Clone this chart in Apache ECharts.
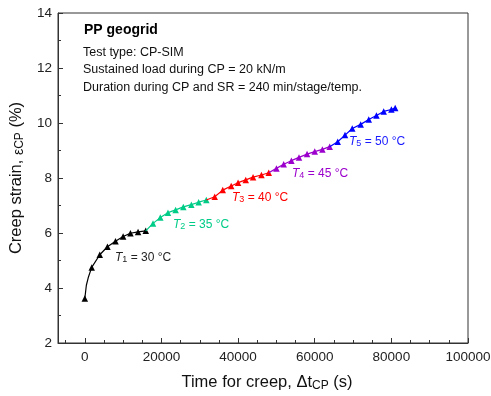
<!DOCTYPE html>
<html>
<head>
<meta charset="utf-8">
<script src="https://cdn.jsdelivr.net/npm/echarts@6/dist/echarts.min.js"></script>
<style>html,body{margin:0;padding:0;background:#fff}#c{width:491px;height:396px}</style>
</head>
<body>
<div id="c"></div>
<script>
// ---- data ----
const t1Time   = [0, 1800, 3900, 5900, 8000, 10000, 11900, 13900, 15900];
const t1Strain = [3.62, 4.75, 5.21, 5.50, 5.70, 5.87, 5.99, 6.04, 6.08];
const t1CurveTime   = [400, 900];      // unmarked points on the initial curve
const t1CurveStrain = [4.10, 4.38];
const t2Time   = [17800, 19700, 21700, 23700, 25700, 27800, 29700, 31700];
const t2Strain = [6.35, 6.56, 6.74, 6.84, 6.95, 7.03, 7.12, 7.20];
const t3Time   = [33900, 36000, 38200, 40000, 42000, 43900, 46100, 48000];
const t3Strain = [7.32, 7.56, 7.71, 7.83, 7.93, 8.03, 8.11, 8.19];
const t4Time   = [50000, 51900, 53900, 55900, 58000, 60000, 62000, 63900];
const t4Strain = [8.35, 8.50, 8.63, 8.75, 8.87, 8.96, 9.04, 9.14];
const t5Time   = [66000, 67900, 69800, 72000, 74100, 76100, 78000, 80000, 81000];
const t5Strain = [9.32, 9.56, 9.80, 9.95, 10.13, 10.27, 10.42, 10.49, 10.55];
const xMajorTicks = [0, 20000, 40000, 60000, 80000, 100000];
const xMinorTicks = [-5000, 5000, 10000, 15000, 25000, 30000, 35000, 45000, 50000, 55000, 65000, 70000, 75000, 85000, 90000, 95000];
const stageNames = ['1', '2', '3', '4', '5'];
const stageTemps = ['30', '35', '40', '45', '50'];
const annotation = ['Test type: CP-SIM', 'Sustained load during CP = 20 kN/m', 'Duration during CP and SR = 240 min/stage/temp.'];

const FONT = 'Liberation Sans, Arial, sans-serif';
const colors = ['#000000', '#00cc88', '#ff0000', '#9b00cc', '#0000ff'];
const labelColors = ['#222222', '#00cc88', '#ff0000', '#9b00cc', '#1a1aff'];

function pts(t, s) { return t.map((v, i) => [v, s[i]]); }
const stages = [pts(t1Time, t1Strain), pts(t2Time, t2Strain), pts(t3Time, t3Strain), pts(t4Time, t4Strain), pts(t5Time, t5Strain)];

const series = [];
stages.forEach((p, k) => {
  let data = p.map(d => ({ value: d }));
  if (k === 0) {
    const curve = pts(t1CurveTime, t1CurveStrain).map(d => ({ value: d, symbol: 'none' }));
    data = [data[0]].concat(curve, data.slice(1));
  } else {
    const prev = stages[k - 1][stages[k - 1].length - 1];
    data = [{ value: prev, symbol: 'none' }].concat(data);
  }
  series.push({
    type: 'line', data: data, smooth: false,
    symbol: 'triangle', symbolSize: 6.5, showAllSymbol: true,
    lineStyle: { color: colors[k], width: 1.2 },
    itemStyle: { color: colors[k] },
    z: 3 + k, animation: false
  });
});

const labelPos = [[115, 260], [173, 227], [232, 200], [292, 176], [349, 144]];
const graphics = labelPos.map((p, k) => ({
  type: 'text', left: p[0], top: p[1] - 8,
  style: {
    text: '{i|T}{s|' + stageNames[k] + '}{n| = ' + stageTemps[k] + ' °C}',
    rich: {
      i: { fontStyle: 'italic', fontSize: 12, fontFamily: FONT, fill: labelColors[k], color: labelColors[k], verticalAlign: 'bottom', lineHeight: 16 },
      s: { fontSize: 9, fontFamily: FONT, fill: labelColors[k], color: labelColors[k], verticalAlign: 'bottom', lineHeight: 11 },
      n: { fontSize: 12, fontFamily: FONT, fill: labelColors[k], color: labelColors[k], verticalAlign: 'bottom', lineHeight: 16 }
    }
  }
}));
graphics.push({ type: 'text', left: 84, top: 23, style: { text: 'PP geogrid', font: 'bold 14px ' + FONT, fill: '#000' } });
annotation.forEach((t, i) => {
  graphics.push({ type: 'text', left: 83, top: 46 + i * 17.3, style: { text: t, font: '12.5px ' + FONT, fill: '#111' } });
});

const chart = echarts.init(document.getElementById('c'), null, { renderer: 'canvas' });
chart.setOption({
  animation: false,
  textStyle: { fontFamily: FONT },
  grid: { left: 58, right: 23, top: 13, bottom: 53, show: true, borderColor: '#333', borderWidth: 1, backgroundColor: 'transparent', containLabel: false, outerBoundsMode: 'none' },
  xAxis: [{
    type: 'value', min: -7000, max: 100000, position: 'bottom',
    axisLine: { show: true, onZero: false, lineStyle: { color: '#333', width: 1 } },
    axisTick: { show: true, inside: true, length: 5, customValues: xMajorTicks, lineStyle: { color: '#333' } },
    axisLabel: { customValues: xMajorTicks, color: '#222', fontSize: 13.5, margin: 7, fontFamily: FONT, formatter: v => String(v) },
    splitLine: { show: false },
    name: 'Time for creep, Δt{s|CP} (s)', nameLocation: 'middle', nameGap: 30,
    nameTextStyle: { fontSize: 16.5, color: '#111', fontFamily: FONT, lineHeight: 19, padding: [0, 0, 0, 8],
      rich: { s: { fontSize: 12, fontFamily: FONT, color: '#111', verticalAlign: 'bottom', lineHeight: 13 } } }
  }, {
    type: 'value', min: -7000, max: 100000, position: 'bottom', offset: 0,
    axisLine: { show: false, onZero: false },
    axisTick: { show: true, inside: true, length: 3, customValues: xMinorTicks, lineStyle: { color: '#333' } },
    axisLabel: { show: false },
    splitLine: { show: false }
  }],
  yAxis: {
    type: 'value', min: 2, max: 14, interval: 2,
    axisLine: { show: true, onZero: false, lineStyle: { color: '#333', width: 1 } },
    axisTick: { show: true, inside: true, length: 5, lineStyle: { color: '#333' } },
    minorTick: { show: true, splitNumber: 2, length: 3, lineStyle: { color: '#333' } },
    axisLabel: { color: '#222', fontSize: 13.5, margin: 6, fontFamily: FONT },
    splitLine: { show: false },
    name: 'Creep strain, {e|ε}{s|CP} (%)', nameLocation: 'middle', nameGap: 26,
    nameTextStyle: { fontSize: 16.5, color: '#111', fontFamily: FONT, lineHeight: 19,
      rich: { e: { fontSize: 14, fontFamily: FONT, color: '#111', verticalAlign: 'bottom', lineHeight: 18 },
              s: { fontSize: 12, fontFamily: FONT, color: '#111', verticalAlign: 'bottom', lineHeight: 13 } } }
  },
  series: series,
  graphic: graphics
});
</script>
</body>
</html>
